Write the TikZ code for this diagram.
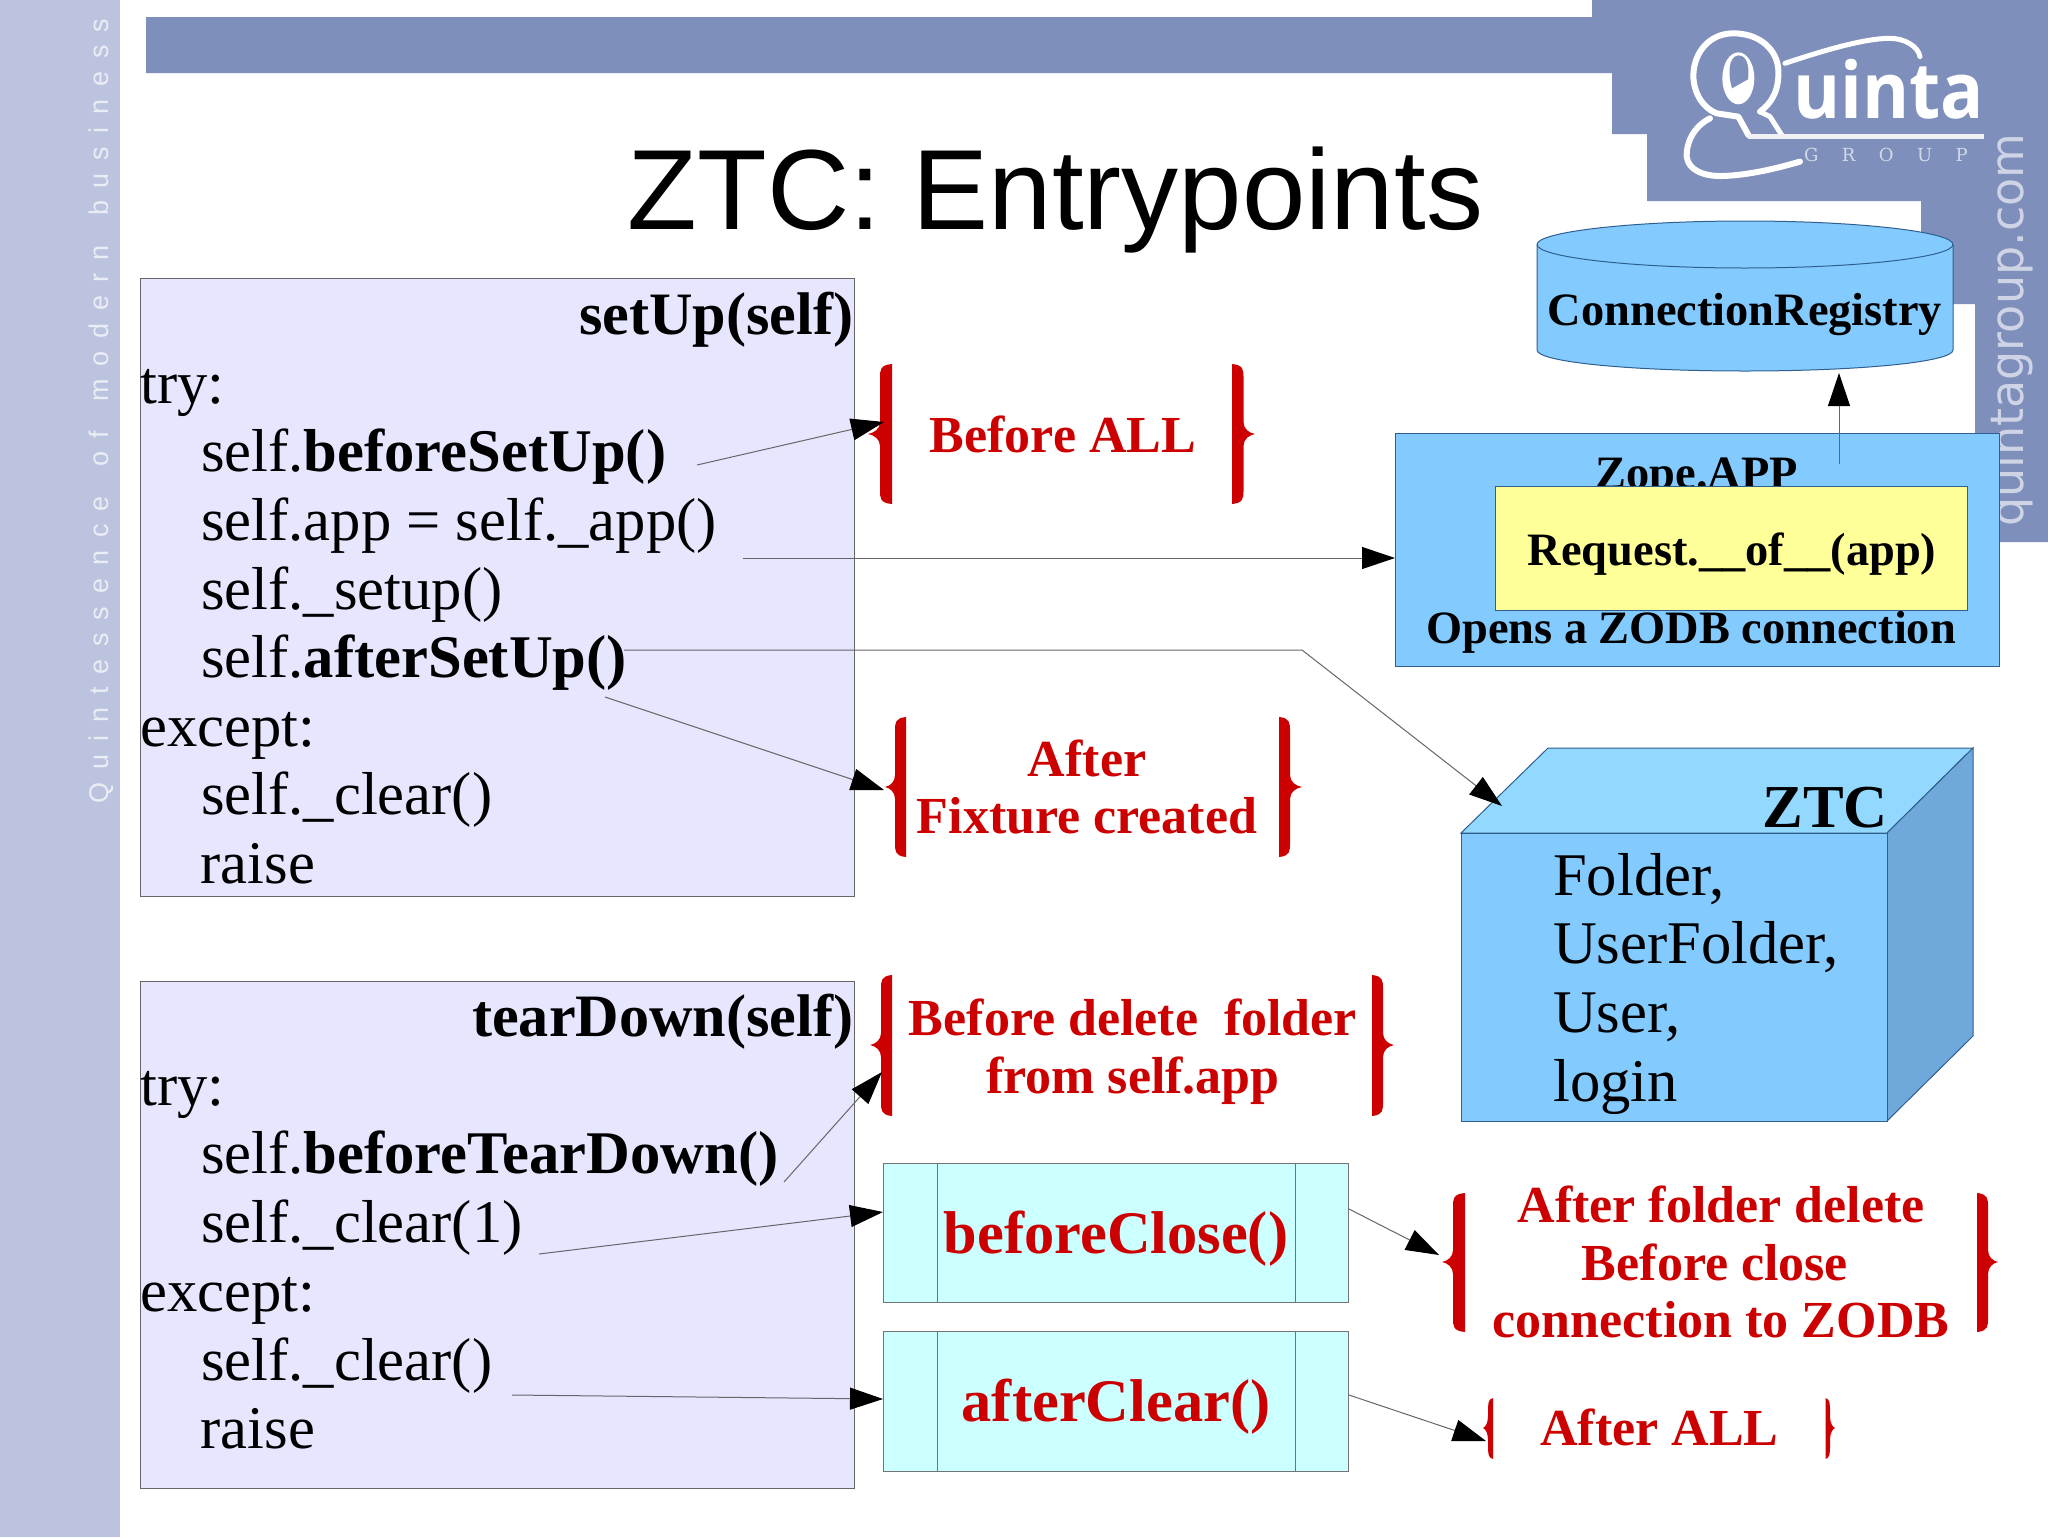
\documentclass[tikz,border=0pt]{standalone}
\usepackage{fontspec}
\usepackage{graphicx}
\setmainfont{Liberation Serif}
\newfontfamily\sansf{Liberation Sans}
\newfontfamily\urlf{DejaVu Sans}
\newfontfamily\sidef[LetterSpace=48]{Liberation Sans}
\newfontfamily\logof{Open Sans}
\newfontfamily\groupf[LetterSpace=130]{DejaVu Serif}
\usetikzlibrary{arrows.meta,calc}
\definecolor{band}{HTML}{7F8FBB}
\definecolor{sidebar}{HTML}{BCC3DE}
\definecolor{lav}{HTML}{E6E6FF}
\definecolor{skyb}{HTML}{83CAFF}
\definecolor{skyt}{HTML}{92D8FF}
\definecolor{skys}{HTML}{6FA9DC}
\definecolor{cyanb}{HTML}{CCFFFF}
\definecolor{yell}{HTML}{FFFF99}
\definecolor{redt}{HTML}{CC0000}
\definecolor{edgeb}{HTML}{2F5F8F}
\tikzset{
  codebox/.style={draw=black!60,fill=lav,line width=1pt,inner sep=0,anchor=north west},
  procbox/.style={draw=black!55,fill=cyanb,line width=1pt,inner sep=0,anchor=north west},
  bluebox/.style={draw=edgeb,fill=skyb,line width=1pt,inner sep=0,anchor=north west},
  yellbox/.style={draw=edgeb,fill=yell,line width=1pt,inner sep=0,anchor=north west},
  codeline/.style={inner sep=0,anchor=base west,font=\fontsize{60.6}{60.6}\selectfont},
  codetitle/.style={inner sep=0,anchor=base east,font=\fontsize{60.2}{60.2}\selectfont\bfseries},
  redlabel/.style={inner sep=0,anchor=base,text=redt,font=\fontsize{52}{52}\selectfont\bfseries},
  redbig/.style={inner sep=0,anchor=base,text=redt,font=\fontsize{60.4}{60.4}\selectfont\bfseries},
  blacklabel/.style={inner sep=0,anchor=base,font=\fontsize{46.4}{46.4}\selectfont\bfseries},
  conn/.style={draw=black!60,line width=1pt,-{Triangle[length=33pt,width=22pt,black]}},
  bracefill/.style={fill=redt,draw=none},
}
\newcommand{\redbrace}[6]{% tip, outer, inner, top, bottom, middle
  \fill[bracefill] ({#3},{#4}) .. controls ({#2},{#4+1}) and ({#2},{#4+6}) .. ({#2},{#4+14}) -- ({#2},{#6-12})
   .. controls ({#2},{#6-5}) and ({(#1+#2)/2},{#6-1}) .. ({#1},{#6}) .. controls ({(#1+#2)/2},{#6+1}) and ({#2},{#6+5}) .. ({#2},{#6+12}) -- ({#2},{#5-14})
   .. controls ({#2},{#5-6}) and ({#2},{#5-1}) .. ({#3},{#5}) -- cycle;}
\begin{document}
\begin{tikzpicture}[x=1pt,y=-1pt]
\useasboundingbox (0,0) rectangle (2048,1537);
\fill[white] (0,0) rectangle (2048,1537);
% decoration
\fill[sidebar] (0,0) rectangle (120,1537);
\fill[band] (146,17) -- (1592,17) -- (1592,0) -- (2048,0) -- (2048,542) -- (1975,542) -- (1975,304) -- (1921,304) -- (1921,201) -- (1647,201) -- (1647,134) -- (1612,134) -- (1612,73) -- (146,73) -- cycle;
\node[rotate=90,anchor=base west,inner sep=0,text=white!70!sidebar,font=\sidef\fontsize{27}{27}\selectfont] (sidetext) at (108,804) {Quintessence\hspace{9pt} of\hspace{9pt} modern\hspace{9pt} business};
\node[rotate=90,anchor=base west,inner sep=0,text=white!62!band,font=\urlf\fontsize{46}{46}\selectfont] (urltext) at (2023,527) {quintagroup.com};
% logo (coordinates of a 3x crop)
\begin{scope}[xshift=1670pt,yshift=-20pt,x=.3333pt,y=-.3333pt,white,line cap=round,line join=round]
\draw[line width=6pt] (270,275) .. controls (305,250) and (328,210) .. (325,150) .. controls (322,90) and (270,40) .. (190,40) .. controls (120,40) and (72,95) .. (70,165) .. controls (70,220) and (100,265) .. (140,280) -- (205,290) -- (235,345);
\draw[line width=5pt] (270,275) -- (300,290) -- (335,345);
\draw[line width=5pt] (345,130) .. controls (450,95) and (580,55) .. (660,55) .. controls (705,55) and (745,80) .. (750,110);
\draw[line width=6pt] (120,295) .. controls (70,320) and (48,370) .. (50,410) .. controls (55,450) and (100,470) .. (160,468) .. controls (240,465) and (320,445) .. (390,425);
\fill (205,175) ellipse [x radius=48,y radius=78];
\fill[band] (186,205) .. controls (175,170) and (172,110) .. (205,106) .. controls (235,106) and (238,150) .. (234,178) -- cycle;
\draw[white!88!band,line width=4.5pt,line cap=butt] (235,350) -- (942,350);
\end{scope}
\node[inner sep=0,anchor=base west,text=white,font=\logof\bfseries\fontsize{78}{78}\selectfont] (logo) at (1793,118) {\scalebox{.92}[1]{uinta}};
\node[inner sep=0,anchor=base west,text=white!65!band,font=\groupf\fontsize{18}{18}\selectfont] (logogroup) at (1804,161) {GROUP};
% title
\node[inner sep=0,anchor=base,font=\sansf\fontsize{114}{114}\selectfont] (title) at (1055.5,229) {ZTC: Entrypoints};
% setUp box
\node[codebox,minimum width=714pt,minimum height=618pt] (setup) at (140,278) {};
\node[codetitle] (s0) at (853.5,334.5) {setUp(self)};
\node[codeline] (s1) at (140,403.5) {try:};
\node[codeline] (s2) at (201,471.5) {self.\textbf{beforeSetUp()}};
\node[codeline] (s3) at (201,540.5) {self.app = self.\_app()};
\node[codeline] (s4) at (201,609.5) {self.\_setup()};
\node[codeline] (s5) at (201,677.5) {self.\textbf{afterSetUp()}};
\node[codeline] (s6) at (140,746.5) {except:};
\node[codeline] (s7) at (201,814.5) {self.\_clear()};
\node[codeline] (s8) at (200.5,883.5) {raise};
% tearDown box
\node[codebox,minimum width=714pt,minimum height=507pt] (teardown) at (140,981) {};
\node[codetitle] (t0) at (853.5,1036) {tearDown(self)};
\node[codeline] (t1) at (140,1105) {try:};
\node[codeline] (t2) at (201,1173) {self.\textbf{beforeTearDown()}};
\node[codeline] (t3) at (201,1242) {self.\_clear(1)};
\node[codeline] (t4) at (140,1311) {except:};
\node[codeline] (t5) at (201,1380) {self.\_clear()};
\node[codeline] (t6) at (200.5,1448) {raise};
% process boxes
\node[procbox,minimum width=465pt,minimum height=139pt] (bc) at (883,1163) {};
\draw[black!55,line width=1pt] ([xshift=54pt]bc.north west) -- ([xshift=54pt]bc.south west);
\draw[black!55,line width=1pt] ([xshift=-54pt]bc.north east) -- ([xshift=-54pt]bc.south east);
\node[redbig] (bctext) at (1116,1253) {beforeClose()};
\node[procbox,minimum width=465pt,minimum height=140pt] (ac) at (883,1331) {};
\draw[black!55,line width=1pt] ([xshift=54pt]ac.north west) -- ([xshift=54pt]ac.south west);
\draw[black!55,line width=1pt] ([xshift=-54pt]ac.north east) -- ([xshift=-54pt]ac.south east);
\node[redbig] (actext) at (1116,1421) {afterClear()};
% cylinder
\path[fill=skyb,draw=edgeb,line width=1pt] (1537,244.5) -- (1537,350) .. controls (1537,362) and (1630,371) .. (1745,371) .. controls (1860,371) and (1953,362) .. (1953,350) -- (1953,244.5) .. controls (1953,232) and (1860,221) .. (1745,221) .. controls (1630,221) and (1537,232) .. (1537,244.5) -- cycle;
\draw[edgeb,line width=1pt] (1537,244.5) .. controls (1537,257) and (1630,268) .. (1745,268) .. controls (1860,268) and (1953,257) .. (1953,244.5);
\node[blacklabel] (registry) at (1745,325) {ConnectionRegistry};
\coordinate (regtip) at (1839,373);
% zope box
\node[bluebox,minimum width=604pt,minimum height=233pt] (zope) at (1395,433) {};
\node[blacklabel] (zopetext) at (1697,488) {Zope.APP};
\node[yellbox,minimum width=472pt,minimum height=124pt] (req) at (1495,486) {};
\node[blacklabel] (reqtext) at (1732,565) {Request.\_\_of\_\_(app)};
\node[blacklabel] (opens) at (1691,643) {Opens a ZODB connection};
\coordinate (zopeup) at (1839,464);
% ZTC cube
\fill[skyt,draw=edgeb,line width=1pt] (1461,833) -- (1548,748) -- (1973,748) -- (1887,833) -- cycle;
\fill[skys,draw=edgeb,line width=1pt] (1887,833) -- (1973,748) -- (1973,1036) -- (1887,1121) -- cycle;
\node[bluebox,minimum width=426pt,minimum height=288pt] (cube) at (1461,833) {};
\node[inner sep=0,anchor=base east,font=\fontsize{61}{61}\selectfont\bfseries] (ztc) at (1888,827) {ZTC};
\node[codeline] (c1) at (1553,895.5) {Folder,};
\node[codeline] (c2) at (1553,963.5) {UserFolder,};
\node[codeline] (c3) at (1553,1032.5) {User,};
\node[codeline] (c4) at (1553,1101.5) {login};
% red labels
\node[redlabel] (r1) at (1063,452) {Before ALL};
\node[redlabel] (r2a) at (1087,776) {After};
\node[redlabel] (r2b) at (1087,833) {Fixture created};
\node[redlabel] (r3a) at (1133,1035) {Before delete\ \ folder};
\node[redlabel] (r3b) at (1133,1093) {from self.app};
\node[redlabel] (r4a) at (1721,1222) {After folder delete};
\node[redlabel] (r4b) at (1715,1280) {Before close};
\node[redlabel] (r4c) at (1721,1337) {connection to ZODB};
\node[redlabel] (r5) at (1659.5,1445) {After ALL};
% braces
\redbrace{868}{880}{892}{364}{504}{434}
\redbrace{1255}{1243.5}{1232}{364}{504}{434}
\redbrace{885}{895}{906}{717}{857}{787}
\redbrace{1302}{1290}{1279}{717}{857}{787}
\redbrace{870}{881}{892}{975}{1116}{1045}
\redbrace{1394}{1383}{1372}{975}{1116}{1045}
\redbrace{1442}{1453}{1465}{1193}{1332}{1262}
\redbrace{1998}{1988}{1977}{1193}{1332}{1262}
\redbrace{1483}{1488}{1493}{1398}{1459}{1428}
\redbrace{1835}{1830}{1825.5}{1398}{1459}{1428}
% connector ends
\coordinate (a1s) at (697,465); \coordinate (a1e) at (884,422);
\coordinate (a2s) at (743,558);
\coordinate (a3s) at (624,650); \coordinate (a3m) at (1302,650); \coordinate (a3e) at (1502,806);
\coordinate (a4s) at (605,697); \coordinate (a4e) at (884,790);
\coordinate (a5s) at (784,1182); \coordinate (a5e) at (882,1072);
\coordinate (a6s) at (539,1254); \coordinate (a6e) at (883,1212);
\coordinate (a7s) at (512,1395); \coordinate (a7e) at (883,1399);
\coordinate (a8s) at (1349,1209); \coordinate (a8e) at (1439,1255);
\coordinate (a9s) at (1349,1395); \coordinate (a9e) at (1486,1441);
\coordinate (a2e) at (1395,558);
% connectors
\draw[conn] (a1s) -- (a1e);
\draw[conn] (a2s) -- (a2e);
\draw[conn] (a3s) -- (a3m) -- (a3e);
\draw[conn] (a4s) -- (a4e);
\draw[conn] (a5s) -- (a5e);
\draw[conn] (a6s) -- (a6e);
\draw[conn] (a7s) -- (a7e);
\draw[conn] (a8s) -- (a8e);
\draw[conn] (a9s) -- (a9e);
\draw[conn] (zopeup) -- (regtip);
\end{tikzpicture}
\end{document}
